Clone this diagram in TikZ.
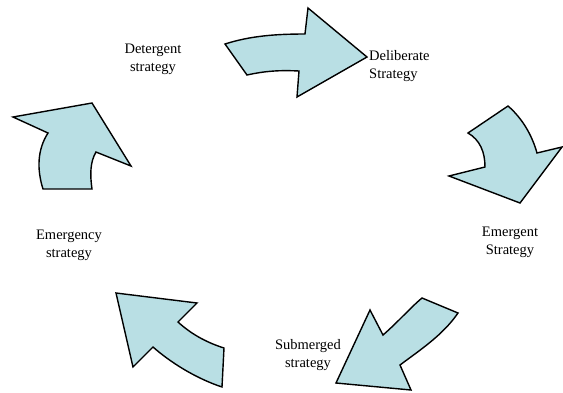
\documentclass[tikz,border=0pt]{standalone}
\usepackage{fontspec}
\setmainfont{Liberation Serif}
\definecolor{arrowfill}{RGB}{185,223,228}
\begin{document}
\begin{tikzpicture}[x=1pt,y=-1pt,
  cyclearrow/.style={draw=black,fill=arrowfill,line width=1.4pt,line join=miter},
  label/.style={align=center,inner sep=0pt,font=\fontsize{14.5}{18}\selectfont}]
\useasboundingbox (0,0) rectangle (563,392);
% top arrow, pointing right
\path[cyclearrow] (225,44) .. controls (250,36) and (275,34) .. (305,34)
  -- (308,8) -- (367,57) -- (297,97) -- (299,71)
  .. controls (280,70) and (265,71) .. (247,75) -- cycle;
% right arrow, pointing down
\path[cyclearrow] (508,106) .. controls (522,118) and (532,135) .. (537,153)
  -- (562,147) -- (520,203) -- (449,176) -- (485,167)
  .. controls (485,152) and (480,140) .. (468,133) -- cycle;
% lower right arrow, pointing down-left
\path[cyclearrow] (422,298) -- (458,313)
  .. controls (443,335) and (420,350) .. (400,365)
  -- (411,390) -- (336,383) -- (370,310) -- (383,335)
  .. controls (398,322) and (410,308) .. (422,298) -- cycle;
% lower left arrow, pointing up-left
\path[cyclearrow] (116,293) -- (197,303) -- (178,322)
  .. controls (190,333) and (205,342) .. (224,348)
  -- (222,387) .. controls (195,378) and (170,362) .. (153,347)
  -- (133,367) -- cycle;
% left arrow, pointing up
\path[cyclearrow] (13,117) -- (92,103) -- (131,166) -- (96,152)
  .. controls (90,162) and (90,175) .. (92,189)
  -- (43,189) .. controls (37,170) and (37,150) .. (48,133) -- cycle;
% labels
\node[label] (detergent) at (153,59) {Detergent\\strategy};
\node[label,align=left,anchor=west] (deliberate) at (369,66) {Deliberate\\Strategy};
\node[label] (emergent) at (510,242) {Emergent\\Strategy};
\node[label] (submerged) at (308,355) {Submerged\\strategy};
\node[label] (emergency) at (69,245) {Emergency\\strategy};
\end{tikzpicture}
\end{document}
